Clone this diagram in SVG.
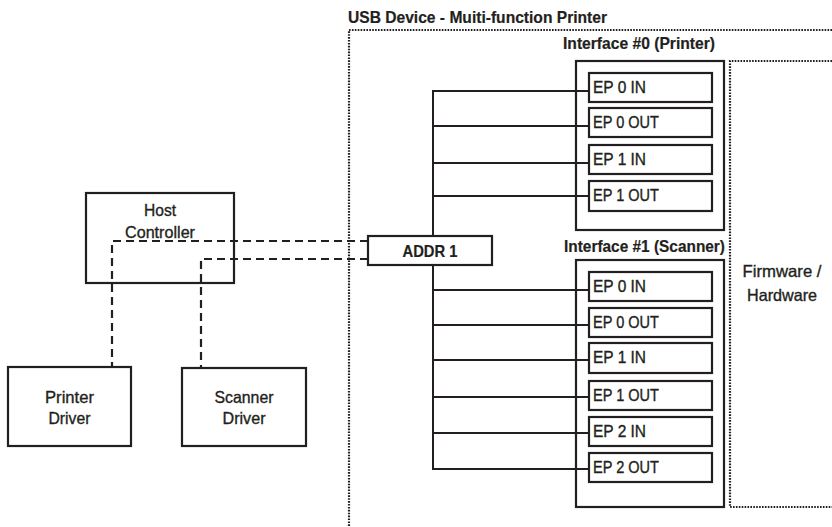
<svg xmlns="http://www.w3.org/2000/svg" width="832" height="527" viewBox="0 0 832 527">
<style>
.box{fill:#fff;stroke:#231f20;stroke-width:2.2}
.ep{fill:#fff;stroke:#231f20;stroke-width:2.2}
.wire{fill:none;stroke:#231f20;stroke-width:2}
.dash{fill:none;stroke:#231f20;stroke-width:2.2;stroke-dasharray:8 5}
.dot{fill:none;stroke:#231f20;stroke-width:2.2;stroke-dasharray:1.6 1.3}
text{font-family:"Liberation Sans",Arial,sans-serif;fill:#231f20;font-size:16.5px;stroke:#231f20;stroke-width:0.35}
.b{font-weight:bold;stroke-width:0.2}
.c{text-anchor:middle}
</style>
<rect width="832" height="527" fill="#fff"/>
<g id="usb-device">
<path class="dot" d="M832 30H349V527"/>
<text class="b" x="348" y="23" textLength="259" lengthAdjust="spacingAndGlyphs">USB Device - Muiti-function Printer</text>
</g>
<g id="firmware">
<path class="dot" d="M832 61H730V507H832"/>
<text class="c" x="782" y="277" textLength="79" lengthAdjust="spacingAndGlyphs">Firmware /</text>
<text class="c" x="782" y="301" textLength="70" lengthAdjust="spacingAndGlyphs">Hardware</text>
</g>
<g id="connectors">
<path class="wire" d="M433 236V91H589M433 126H589M433 163H589M433 196H589"/>
<path class="wire" d="M433 265V469H589M433 290H589M433 325H589M433 360H589M433 397H589M433 433H589"/>
<path class="dash" d="M368 241H112V367"/>
<path class="dash" d="M368 259H201V367"/>
</g>
<g id="host-controller">
<rect class="box" x="86" y="193" width="148" height="90" style="fill:none"/>
<text class="c" x="160" y="216" textLength="32" lengthAdjust="spacingAndGlyphs">Host</text>
<text class="c" x="160" y="238" textLength="70" lengthAdjust="spacingAndGlyphs">Controller</text>
</g>
<g id="printer-driver">
<rect class="box" x="8" y="367" width="123" height="79"/>
<text class="c" x="69.5" y="403" textLength="49" lengthAdjust="spacingAndGlyphs">Printer</text>
<text class="c" x="69.5" y="424" textLength="42" lengthAdjust="spacingAndGlyphs">Driver</text>
</g>
<g id="scanner-driver">
<rect class="box" x="182" y="368" width="124" height="78"/>
<text class="c" x="244" y="403" textLength="59" lengthAdjust="spacingAndGlyphs">Scanner</text>
<text class="c" x="244" y="424" textLength="43" lengthAdjust="spacingAndGlyphs">Driver</text>
</g>
<g id="addr1">
<rect class="box" x="368" y="236" width="124" height="29"/>
<text class="b c" x="430" y="257" textLength="55" lengthAdjust="spacingAndGlyphs">ADDR 1</text>
</g>
<g id="interface0">
<text class="b" x="563" y="49" textLength="152" lengthAdjust="spacingAndGlyphs">Interface #0 (Printer)</text>
<rect class="box" x="576" y="61" width="148" height="169" style="fill:none"/>
<g id="i0-ep0in"><rect class="ep" x="589" y="73" width="123" height="29"/><text x="593" y="93" textLength="53" lengthAdjust="spacingAndGlyphs">EP 0 IN</text></g>
<g id="i0-ep0out"><rect class="ep" x="589" y="108" width="123" height="29"/><text x="593" y="128" textLength="66" lengthAdjust="spacingAndGlyphs">EP 0 OUT</text></g>
<g id="i0-ep1in"><rect class="ep" x="589" y="145" width="123" height="29"/><text x="593" y="165" textLength="53" lengthAdjust="spacingAndGlyphs">EP 1 IN</text></g>
<g id="i0-ep1out"><rect class="ep" x="589" y="181" width="123" height="30"/><text x="593" y="201" textLength="66" lengthAdjust="spacingAndGlyphs">EP 1 OUT</text></g>
</g>
<g id="interface1">
<text class="b" x="564" y="252" textLength="161" lengthAdjust="spacingAndGlyphs">Interface #1 (Scanner)</text>
<rect class="box" x="576" y="260" width="148" height="247" style="fill:none"/>
<g id="i1-ep0in"><rect class="ep" x="589" y="272" width="123" height="29"/><text x="593" y="292" textLength="53" lengthAdjust="spacingAndGlyphs">EP 0 IN</text></g>
<g id="i1-ep0out"><rect class="ep" x="589" y="308" width="123" height="29"/><text x="593" y="328" textLength="66" lengthAdjust="spacingAndGlyphs">EP 0 OUT</text></g>
<g id="i1-ep1in"><rect class="ep" x="589" y="343" width="123" height="30"/><text x="593" y="363" textLength="53" lengthAdjust="spacingAndGlyphs">EP 1 IN</text></g>
<g id="i1-ep1out"><rect class="ep" x="589" y="381" width="123" height="29"/><text x="593" y="401" textLength="66" lengthAdjust="spacingAndGlyphs">EP 1 OUT</text></g>
<g id="i1-ep2in"><rect class="ep" x="589" y="417" width="123" height="29"/><text x="593" y="437" textLength="53" lengthAdjust="spacingAndGlyphs">EP 2 IN</text></g>
<g id="i1-ep2out"><rect class="ep" x="589" y="453" width="123" height="29"/><text x="593" y="473" textLength="66" lengthAdjust="spacingAndGlyphs">EP 2 OUT</text></g>
</g>
</svg>
